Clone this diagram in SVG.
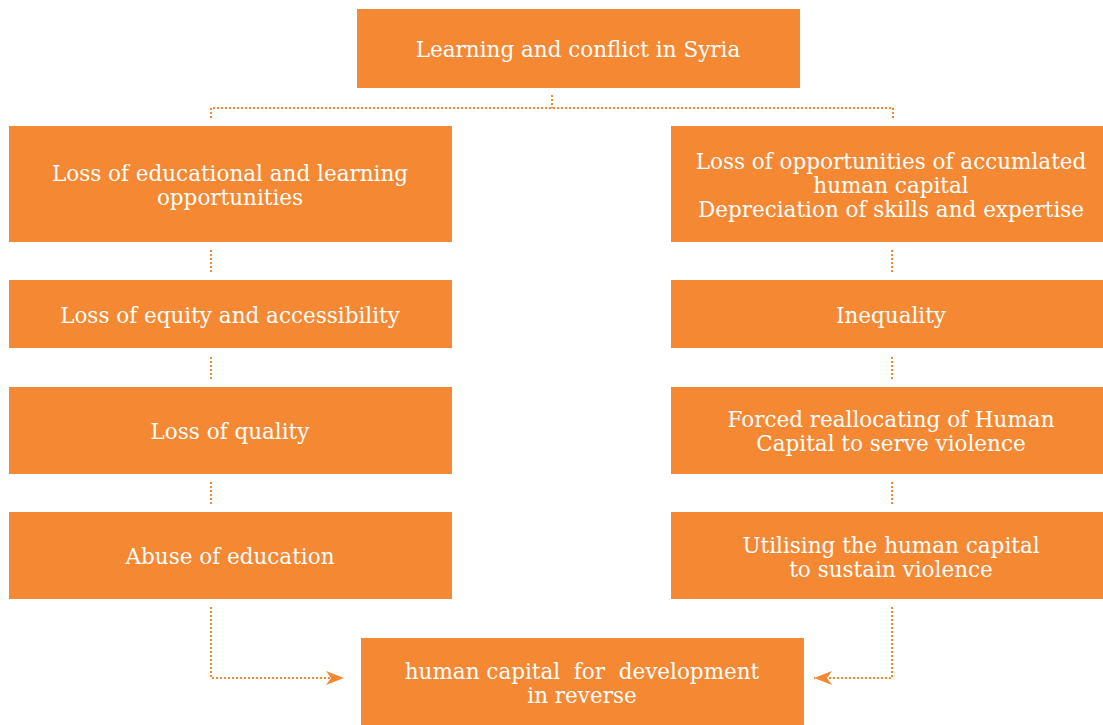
<svg xmlns="http://www.w3.org/2000/svg" width="1103" height="725" viewBox="0 0 1103 725">
<style>
.box{fill:#F58833;}
.t{fill:#fff;font-family:"DejaVu Serif","Liberation Serif",serif;font-size:21.5px;text-anchor:middle;}
.c{fill:none;stroke:#F58833;stroke-width:2;stroke-dasharray:2 2;}
</style>
<defs>
<marker id="ah" viewBox="0 0 18 14" refX="18" refY="7" markerWidth="18" markerHeight="14" markerUnits="userSpaceOnUse" orient="auto">
<path d="M0,0 L18,7 L0,14 L5,7 Z" fill="#F58833"/>
</marker>
</defs>
<rect width="1103" height="725" fill="#fff"/>
<g id="connectors">
<path class="c" d="M552,95 V108 M211,118 V108 H893 V118"/>
<path class="c" d="M211,250 V273 M211,357 V380 M211,482 V505"/>
<path class="c" d="M892,250 V273 M892,357 V380 M892,482 V505"/>
<path class="c" d="M211,607 V678 H344" marker-end="url(#ah)"/>
<path class="c" d="M892,607 V678 H814" marker-end="url(#ah)"/>
</g>
<g id="n0"><rect class="box" x="357" y="9" width="443" height="79"/><text class="t" x="578" y="57">Learning and conflict in Syria</text></g>
<g id="l1"><rect class="box" x="9" y="126" width="443" height="116"/><text class="t" x="230" y="181">Loss of educational and learning</text><text class="t" x="230" y="205">opportunities</text></g>
<g id="l2"><rect class="box" x="9" y="280" width="443" height="68"/><text class="t" x="230" y="323">Loss of equity and accessibility</text></g>
<g id="l3"><rect class="box" x="9" y="387" width="443" height="87"/><text class="t" x="230" y="439">Loss of quality</text></g>
<g id="l4"><rect class="box" x="9" y="512" width="443" height="87"/><text class="t" x="230" y="564">Abuse of education</text></g>
<g id="r1"><rect class="box" x="671" y="126" width="432" height="116"/><text class="t" x="891" y="169">Loss of opportunities of accumlated</text><text class="t" x="891" y="193">human capital</text><text class="t" x="891" y="217">Depreciation of skills and expertise</text></g>
<g id="r2"><rect class="box" x="671" y="280" width="432" height="68"/><text class="t" x="891" y="323">Inequality</text></g>
<g id="r3"><rect class="box" x="671" y="387" width="432" height="87"/><text class="t" x="891" y="427">Forced reallocating of Human</text><text class="t" x="891" y="451">Capital to serve violence</text></g>
<g id="r4"><rect class="box" x="671" y="512" width="432" height="87"/><text class="t" x="891" y="553">Utilising the human capital</text><text class="t" x="891" y="577">to sustain violence</text></g>
<g id="b"><rect class="box" x="361" y="638" width="443" height="87"/><text class="t" x="582" y="679" xml:space="preserve">human capital  for  development</text><text class="t" x="582" y="703">in reverse</text></g>
</svg>
